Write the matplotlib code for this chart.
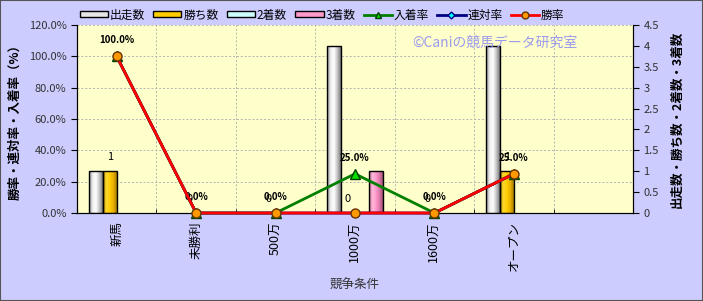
import numpy as np
import matplotlib
matplotlib.use("Agg")
import matplotlib.pyplot as plt
from matplotlib.colors import LinearSegmentedColormap
from matplotlib.patches import Patch, Rectangle
from matplotlib.lines import Line2D

plt.rcParams["font.family"] = ["Noto Sans CJK JP", "DejaVu Sans"]

# ------------------------------------------------------------
# data
# ------------------------------------------------------------
categories = ["新馬", "未勝利", "500万", "1000万", "1600万", "オープン", ""]

starts = [1, 0, 0, 4, 0, 4, np.nan]
wins = [1, 0, 0, 0, 0, 1, np.nan]
seconds = [0, 0, 0, 0, 0, 0, np.nan]
thirds = [0, 0, 0, 1, 0, 0, np.nan]

place_rate = [100.0, 0.0, 0.0, 25.0, 0.0, 25.0, np.nan]
quinella_rate = [100.0, 0.0, 0.0, 0.0, 0.0, 25.0, np.nan]
win_rate = [100.0, 0.0, 0.0, 0.0, 0.0, 25.0, np.nan]

bar_series = [
    ("出走数", starts, ["#8a8a8a", "#ececec", "#ffffff", "#c4c4c4", "#7a7a7a"], "#e6e6e6"),
    ("勝ち数", wins, ["#c89a00", "#ffd830", "#ffcc00", "#e8b000", "#a87c00"], "#ffcc00"),
    ("2着数", seconds, ["#88bbbb", "#eeffff", "#ccffff", "#aadddd", "#88aaaa"], "#ccffff"),
    ("3着数", thirds, ["#c06090", "#ffbcd8", "#ff99cc", "#e07aaa", "#a05078"], "#ff99cc"),
]

x = np.arange(len(categories))
bar_w = 0.176

fig = plt.figure(figsize=(7.03, 3.01), dpi=100)
fig.patch.set_facecolor("#ccccff")

# percentage axis (background, grid, left ticks)
ax_pct = fig.add_axes([77 / 703, 88 / 301, 556 / 703, 188 / 301])
ax_pct.set_facecolor("#ffffcc")
ax_pct.set_xlim(-0.5, len(categories) - 0.5)
ax_pct.set_ylim(0, 120)
ax_pct.set_yticks(np.arange(0, 121, 20))
ax_pct.yaxis.set_major_formatter(lambda v, p: f"{v:.1f}%")
ax_pct.tick_params(axis="y", labelsize=8, labelcolor="#333333", length=4, width=0.8)
ax_pct.set_xticks(x)
ax_pct.set_xticklabels(categories, rotation=90, fontsize=9)
ax_pct.set_xticks(x[:-1] + 0.5, minor=True)
ax_pct.tick_params(axis="x", which="major", length=0, pad=6)
ax_pct.tick_params(axis="x", which="minor", direction="in", length=3)
ax_pct.grid(axis="y", color="#b4b4b4", linestyle=(0, (2, 2)), linewidth=0.7)
ax_pct.grid(axis="x", which="minor", color="#b4b4b4", linestyle=(0, (2, 2)), linewidth=0.7)
ax_pct.spines["top"].set_visible(False)

# counts axis (bars, right ticks)
ax_bar = ax_pct.twinx()
ax_bar.set_ylim(0, 4.5)
ax_bar.set_yticks(np.arange(0, 4.51, 0.5))
ax_bar.yaxis.set_major_formatter(lambda v, p: f"{v:g}")
ax_bar.tick_params(axis="y", labelsize=8, labelcolor="#333333", length=4, width=0.8)
ax_bar.spines["top"].set_visible(False)

grad = np.linspace(0, 1, 64).reshape(1, -1)
for i, (name, vals, shades, base) in enumerate(bar_series):
    pos = x + (i - 1.5) * bar_w
    bars = ax_bar.bar(pos, vals, bar_w, color=base, edgecolor="none", zorder=2)
    cmap = LinearSegmentedColormap.from_list(name, shades)
    for b in bars:
        h = b.get_height()
        if not np.isfinite(h) or h <= 0:
            continue
        im = ax_bar.imshow(grad, cmap=cmap, aspect="auto", zorder=2.5,
                           extent=[b.get_x(), b.get_x() + b.get_width(), 0, h])
        im.set_clip_path(b)
        ax_bar.add_patch(Rectangle((b.get_x(), 0), b.get_width(), h, fill=False,
                                   edgecolor="black", linewidth=1.0, zorder=3))

# data labels for wins
for i, v in enumerate(wins):
    if np.isfinite(v):
        ax_bar.annotate(f"{v:g}", (x[i] - 0.5 * bar_w, v), xytext=(0, 10),
                        textcoords="offset points", ha="center", va="center", fontsize=8)

ax_bar.set_xlim(-0.5, len(categories) - 0.5)
ax_bar.set_ylim(0, 4.5)

# lines axis (on top)
ax_line = ax_pct.twinx()
ax_line.set_ylim(0, 120)
ax_line.set_yticks([])
for s in ax_line.spines.values():
    s.set_visible(False)

ax_line.plot(x, place_rate, color="#008000", linewidth=2, marker="^", markersize=7,
             markerfacecolor="#00dd00", markeredgecolor="#004000", clip_on=False, zorder=4)
ax_line.plot(x, quinella_rate, color="#000080", linewidth=2, marker="D", markersize=4,
             markerfacecolor="#00ffff", markeredgecolor="#000080", clip_on=False, zorder=5)
ax_line.plot(x, win_rate, color="#ff0000", linewidth=2, marker="o", markersize=6.5,
             markerfacecolor="#ff9900", markeredgecolor="#663300", clip_on=False, zorder=6)

for i, v in enumerate(place_rate):
    if np.isfinite(v):
        ax_line.annotate(f"{v:.1f}%", (x[i], v), xytext=(0, 11.5),
                         textcoords="offset points", ha="center", va="center",
                         fontsize=7, fontweight="bold")

ax_line.set_xlim(-0.5, len(categories) - 0.5)

# texts
fig.text(495 / 703, 1 - 43 / 301, "©Caniの競馬データ研究室", color="#9a9aee",
         fontsize=10, ha="center", va="center")
fig.text(15 / 703, 1 - 119 / 301, "勝率・連対率・入着率（%）", rotation=90,
         fontsize=9, fontweight="bold", ha="center", va="center")
fig.text(677 / 703, 1 - 119 / 301, "出走数・勝ち数・2着数・3着数", rotation=90,
         fontsize=9, fontweight="bold", ha="center", va="center")
fig.text(355 / 703, 1 - 285 / 301, "競争条件", fontsize=9, color="#333333",
         ha="center", va="center")

# legend
handles = [Patch(facecolor=base, edgecolor="black", label=name)
           for name, _, _, base in bar_series]
handles += [
    Line2D([], [], color="#008000", linewidth=2, marker="^", markersize=5,
           markerfacecolor="#00dd00", markeredgecolor="#004000", label="入着率"),
    Line2D([], [], color="#000080", linewidth=2, marker="D", markersize=3.5,
           markerfacecolor="#00ffff", markeredgecolor="#000080", label="連対率"),
    Line2D([], [], color="#ff0000", linewidth=2, marker="o", markersize=5,
           markerfacecolor="#ff9900", markeredgecolor="#663300", label="勝率"),
]
fig.legend(handles=handles, loc="center", bbox_to_anchor=(322 / 703, 1 - 15 / 301),
           ncol=7, frameon=False, fontsize=8.5, handlelength=2.4, handleheight=0.45,
           handletextpad=0.15, columnspacing=0.7)

fig.add_artist(Rectangle((0, 0), 1, 1, transform=fig.transFigure, fill=False,
                         edgecolor="#555555", linewidth=1.5))

fig.savefig("out.png", dpi=100, facecolor=fig.get_facecolor())
